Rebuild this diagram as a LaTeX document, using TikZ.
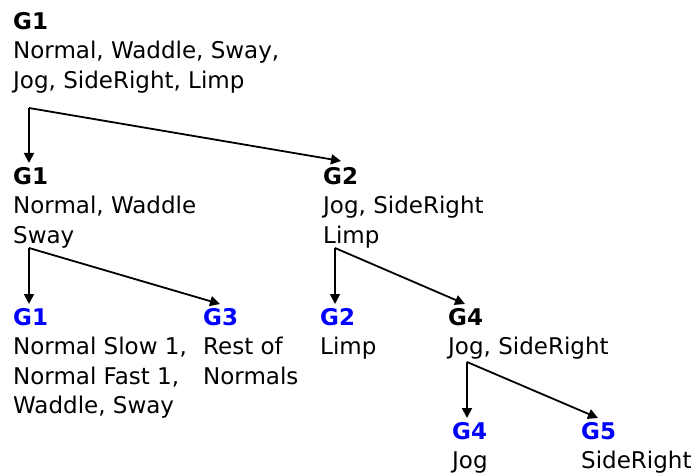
\documentclass[tikz,border=0pt]{standalone}
\usepackage{fontspec}
\setmainfont{DejaVu Sans}
\usetikzlibrary{arrows.meta}
\definecolor{grpblue}{RGB}{0,0,255}
\begin{document}
\begin{tikzpicture}[x=1pt,y=-1pt,
  block/.style={anchor=north west,inner sep=0pt,align=left,font=\fontsize{23}{29.5}\selectfont},
  link/.style={line width=1.8pt,-{Triangle[length=10pt,width=10pt]}}]
\useasboundingbox (0,0) rectangle (693,473);
\node[block] (root) at (13,12) {\textbf{G1}\\Normal, Waddle, Sway,\\Jog, SideRight, Limp};
\node[block] (a) at (13,167) {\textbf{G1}\\Normal, Waddle\\Sway};
\node[block] (b) at (323,167) {\textbf{G2}\\Jog, SideRight\\Limp};
\node[block] (aa) at (13,308) {\textcolor{grpblue}{\textbf{G1}}\\Normal Slow 1,\\Normal Fast 1,\\Waddle, Sway};
\node[block] (ab) at (203,308) {\textcolor{grpblue}{\textbf{G3}}\\Rest of\\Normals};
\node[block] (ba) at (320,308) {\textcolor{grpblue}{\textbf{G2}}\\Limp};
\node[block] (bb) at (448,308) {\textbf{G4}\\Jog, SideRight};
\node[block] (bba) at (452,422) {\textcolor{grpblue}{\textbf{G4}}\\Jog};
\node[block] (bbb) at (581,422) {\textcolor{grpblue}{\textbf{G5}}\\SideRight};
\coordinate (f0) at (29,108);
\coordinate (f1) at (29,248);
\coordinate (f2) at (335,248);
\coordinate (f3) at (467,362);
\coordinate (t1) at (29,163);
\coordinate (t2) at (341,161);
\coordinate (t3) at (29,304);
\coordinate (t4) at (220,304);
\coordinate (t5) at (335,304);
\coordinate (t6) at (465,304);
\coordinate (t7) at (467,418);
\coordinate (t8) at (598,418);
\draw[link] (f0) -- (t1);
\draw[link] (f0) -- (t2);
\draw[link] (f1) -- (t3);
\draw[link] (f1) -- (t4);
\draw[link] (f2) -- (t5);
\draw[link] (f2) -- (t6);
\draw[link] (f3) -- (t7);
\draw[link] (f3) -- (t8);
\end{tikzpicture}
\end{document}
